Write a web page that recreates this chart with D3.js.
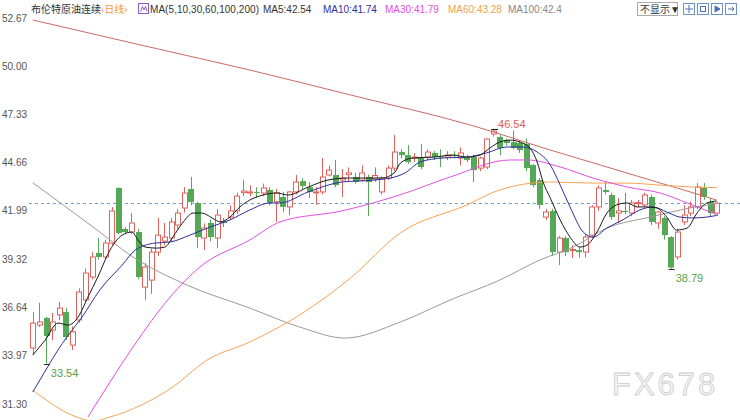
<!DOCTYPE html>
<html><head><meta charset="utf-8">
<script src="https://cdn.jsdelivr.net/npm/d3@7"></script>
<style>
body{margin:0;background:#fff;}
svg{display:block;}
text{font-family:"Liberation Sans",Arial,"Noto Sans CJK SC",sans-serif;}
</style>
</head><body>
<svg id="c" width="740" height="420"></svg>
<script>
// ---------- data ----------
const opens  = [34.40,35.67,36.06,35.39,36.23,36.39,34.56,35.95,37.06,38.33,39.66,39.44,40.21,43.26,40.99,40.82,40.82,37.77,38.16,39.71,40.32,40.49,41.21,42.15,43.20,42.43,40.49,41.32,40.49,41.40,41.65,41.99,43.00,42.98,43.04,42.98,43.15,42.50,42.76,42.21,43.04,43.64,43.31,43.00,43.04,43.98,43.98,43.70,44.00,43.87,43.70,43.87,43.75,43.04,43.81,44.36,45.25,45.08,44.90,44.97,44.97,45.20,45.00,44.97,45.10,44.92,44.97,44.97,44.36,44.42,46.25,46.08,45.91,45.80,45.75,45.70,44.53,43.70,41.65,41.99,39.71,40.49,39.80,39.82,39.71,40.65,42.21,43.15,42.87,41.87,41.99,41.87,42.40,42.32,42.76,41.32,41.60,40.54,39.44,41.38,41.87,42.21,43.26,42.48,41.87];
const highs  = [36.39,36.90,36.12,36.34,36.95,36.61,35.60,37.70,38.80,39.70,40.49,40.40,42.20,43.30,41.10,41.87,41.00,39.10,39.90,41.60,41.32,41.60,42.10,43.31,43.87,42.50,41.30,41.50,42.10,41.60,42.30,43.00,43.70,43.40,43.30,43.50,43.30,43.20,43.04,43.10,43.98,43.80,43.59,43.30,44.92,44.50,44.81,44.30,44.40,44.10,44.50,44.00,44.40,43.90,44.50,46.19,45.40,45.64,45.20,45.70,45.40,45.30,45.40,45.30,45.30,45.50,45.10,45.10,45.00,46.00,46.54,46.20,46.00,46.45,45.90,46.00,44.60,43.80,42.10,42.10,40.60,40.60,40.10,40.00,40.70,42.30,43.40,43.59,43.00,42.70,42.98,42.60,42.60,43.00,42.90,42.00,41.70,40.60,41.00,42.30,42.50,43.53,43.53,42.70,42.50];
const lows   = [34.01,35.56,33.54,34.84,35.95,34.84,34.29,35.80,36.90,38.20,39.30,39.30,40.10,40.70,40.70,40.70,38.20,37.06,37.40,39.50,40.10,40.30,41.00,41.90,42.30,39.93,39.82,40.30,39.93,41.10,41.50,41.80,42.80,42.80,42.70,42.80,42.30,41.38,41.93,41.76,42.90,43.20,42.70,42.32,42.90,43.90,43.30,42.76,43.60,43.50,43.60,41.70,43.60,42.90,43.70,44.20,44.90,44.60,44.70,44.30,44.80,44.80,44.42,44.80,44.90,44.50,44.70,43.59,44.20,44.30,46.10,45.08,45.60,45.40,45.20,44.20,43.30,42.10,41.50,39.50,38.99,39.50,39.38,39.40,39.40,40.50,42.00,42.90,41.50,41.32,41.80,41.70,42.20,42.20,41.20,41.00,40.40,38.79,39.30,41.20,41.70,42.10,42.60,41.70,41.70];
const closes = [35.78,35.84,35.06,35.84,36.61,35.01,35.30,37.50,38.55,39.44,39.44,40.21,41.99,40.77,40.82,41.32,38.33,38.88,39.71,40.65,40.54,41.38,41.87,42.98,42.48,40.54,41.04,40.54,41.76,41.32,41.99,42.81,43.09,43.04,43.00,43.26,42.43,43.00,42.21,43.04,43.59,43.37,43.04,43.04,43.87,44.25,43.42,43.81,44.10,43.59,44.09,43.59,43.95,43.81,44.36,45.25,45.08,44.70,44.97,44.42,45.25,44.97,44.95,45.08,45.05,45.20,44.81,44.25,44.92,45.97,46.41,45.47,45.75,45.47,45.36,44.36,43.42,42.32,41.93,39.71,40.49,39.71,39.85,39.71,40.54,42.21,43.26,43.04,41.65,41.99,41.93,42.43,42.45,42.87,41.38,41.93,40.65,38.85,40.82,41.76,42.21,43.31,42.76,41.87,42.42];

const yTicks = [52.67,50.00,47.33,44.66,41.99,39.32,36.64,33.97,31.30];

// moving averages: [candle index, value]
const ma5 = [[0,34.01],[1.9,34.84],[3.85,35.78],[5.4,35.67],[6.9,36.11],[8.4,37.22],[9.9,38.33],[11.75,39.82],[13.6,40.65],[15.1,40.82],[16,40.38],[17.1,39.99],[18.9,39.93],[20.1,39.99],[21.3,40.54],[22.9,41.38],[24.4,41.87],[25.7,41.87],[27.3,41.60],[28.5,41.38],[30,41.65],[31.5,42.21],[33,42.59],[35,42.87],[37.1,42.98],[38.8,42.87],[41.9,43.31],[44.9,43.70],[47.9,43.81],[51,43.81],[53.1,43.81],[55.1,44.14],[55.9,44.64],[57.8,44.92],[60.9,44.97],[63.9,45.08],[66,44.97],[68,45.08],[69.5,45.47],[71,45.80],[72.6,45.91],[74.1,45.80],[75.6,45.47],[76.7,44.70],[77.6,43.59],[78.7,42.70],[80.2,41.49],[81.7,40.54],[83.2,39.99],[84.3,40.10],[85.8,40.82],[87.3,41.87],[88.8,42.32],[90.4,42.43],[91.9,42.21],[93.4,42.21],[94.9,42.15],[96.4,41.65],[97.9,40.93],[99.5,41.04],[101,41.87],[102.5,42.43],[104,42.54]];
const ma10 = [[0,31.96],[1.1,32.63],[3.85,34.29],[5.2,35.01],[7.5,36.11],[10.2,37.61],[13.6,38.99],[15.6,39.82],[18.6,40.21],[20.9,40.27],[23.9,40.65],[27,41.10],[30,41.49],[33,42.04],[36.1,42.43],[37.6,42.43],[41.9,43.04],[47,43.59],[52,43.70],[55.1,43.87],[56.6,44.09],[58.9,44.70],[62.4,44.92],[66,44.97],[69,45.20],[72.1,45.53],[74.5,45.53],[76.7,45.25],[78.7,44.53],[80.2,43.42],[81.7,42.21],[83.7,40.82],[85.2,40.54],[87.3,41.04],[89.7,41.49],[92.3,42.04],[94.3,42.21],[96.4,41.93],[98.4,41.65],[100.4,41.60],[102.5,41.65],[104,41.74]];
const ma30 = [[8.4,30.58],[11.75,32.51],[15.25,34.45],[20.9,37.22],[25.4,38.88],[33,40.38],[37.6,41.38],[47,41.99],[56.2,42.92],[63.5,43.87],[72.6,44.81],[75.2,44.81],[80.2,44.42],[85.2,43.81],[90.4,43.31],[95.4,42.98],[99.5,42.43],[104,41.79]];
const ma60 = [[0,32.07],[6.7,30.58],[9.2,30.36],[11.75,30.58],[21.3,32.24],[26.5,33.73],[33,34.73],[40.6,36.23],[48.3,38.27],[55.9,40.77],[66,42.32],[71,43.15],[78.7,43.59],[85.2,43.53],[90.4,43.53],[95.4,43.42],[100.4,43.31],[104,43.28]];
const ma100 = [[0,43.55],[10.2,40.82],[14.8,39.55],[23.5,37.88],[33,36.61],[40.6,35.56],[47.5,34.95],[55.9,35.84],[63.5,37.06],[71,38.16],[77.1,39.27],[82.2,39.99],[87.3,41.04],[93.9,41.65],[99.9,42.15],[104,42.40]];
const ma200 = [[0,52.56],[17.8,51.06],[33,49.79],[48.3,48.41],[66.5,46.75],[78.7,45.36],[86.3,44.53],[93.9,43.70],[101.5,42.87],[104,42.59]];

const maNames  = ["MA5","MA10","MA30","MA60","MA100","MA200"];
const maLast   = ["42.54","41.74","41.79","43.28","42.4"];
const marks    = [[70,"high"],[2,"low"],[97,"low"]];

// ---------- drawing ----------
const svg = d3.select("#c");
const n = opens.length;
const x = d3.scaleBand().domain(d3.range(n)).range([29.4,720]).paddingInner(0.3).paddingOuter(0.15);
const bw = x.bandwidth();
const cx = i => x(i) + bw/2;
const xi = d3.scaleLinear().domain([0,n-1]).range([cx(0), cx(n-1)]);
const y = d3.scaleLinear().domain([31.30,52.67]).range([404,18]);

const upC = "#e0625c", dnC = "#55a855";
const maColors = ["#1a1a1a","#2e2e9e","#e04fe0","#f4a354","#9a9a9a","#c86a66"];

// y labels
svg.append("g").selectAll("text").data(yTicks).join("text")
  .attr("x",2).attr("y",d=>y(d)).attr("dy","0.35em")
  .attr("font-size",10).attr("fill","#555")
  .text(d=>d.toFixed(2));

// last close dashed line
svg.append("line")
  .attr("x1",29).attr("x2",740)
  .attr("y1",Math.round(y(closes[n-1]))+0.5).attr("y2",Math.round(y(closes[n-1]))+0.5)
  .attr("stroke","#6fa3d8").attr("stroke-dasharray","3,3").attr("stroke-width",1);

// candles
const g = svg.append("g");
d3.range(n).forEach(i=>{
  const up = closes[i] >= opens[i];
  const col = up ? upC : dnC;
  const xc = Math.round(cx(i)) + 0.5;
  const top = y(Math.max(opens[i],closes[i])), bot = y(Math.min(opens[i],closes[i]));
  g.append("line").attr("x1",xc).attr("x2",xc).attr("y1",y(highs[i])).attr("y2",y(lows[i]))
    .attr("stroke",col).attr("stroke-width",1);
  const h = Math.max(1, bot-top);
  if (up) {
    g.append("rect").attr("x",Math.round(x(i))+0.5).attr("y",top).attr("width",Math.round(bw)).attr("height",h)
      .attr("fill","#fff").attr("stroke",col).attr("stroke-width",1);
  } else {
    g.append("rect").attr("x",Math.round(x(i))).attr("y",top).attr("width",Math.round(bw)+1).attr("height",h)
      .attr("fill",col).attr("stroke","none");
  }
});

// MA lines
const line = d3.line().x(d=>xi(d[0])).y(d=>y(d[1])).curve(d3.curveMonotoneX);
[ma200,ma100,ma60,ma30,ma10,ma5].forEach((arr,k)=>{
  const ci = 5-k;
  svg.append("path").attr("d",line(arr)).attr("fill","none")
    .attr("stroke",maColors[ci]).attr("stroke-width",1);
});

// high / low marks
marks.forEach(([i,type])=>{
  const xc = cx(i);
  if (type==="high") {
    const yy = Math.round(y(highs[i]))+0.5;
    svg.append("line").attr("x1",xc-2).attr("x2",xc+5).attr("y1",yy).attr("y2",yy).attr("stroke","#222");
    svg.append("text").attr("x",xc+5).attr("y",yy-2).attr("font-size",11).attr("fill","#e05a50").text(highs[i].toFixed(2));
  } else {
    const yy = Math.round(y(lows[i]))+0.5;
    svg.append("line").attr("x1",xc-2).attr("x2",xc+4).attr("y1",yy).attr("y2",yy).attr("stroke","#222");
    svg.append("text").attr("x",xc+5).attr("y",yy+12).attr("font-size",11).attr("fill","#5a9e4a").text(lows[i].toFixed(2));
  }
});

// watermark
svg.append("text").attr("x",612).attr("y",395).attr("font-size",31).attr("letter-spacing",3)
  .attr("fill","#f6f6f6").attr("stroke","#cccccc").attr("stroke-width",0.8)
  .attr("font-family","Liberation Sans, Arial, sans-serif").text("FX678");

// header
const hd = svg.append("g");
hd.append("text").attr("x",31).attr("y",13).attr("font-size",10).attr("fill","#333")
  .attr("font-family","Noto Sans CJK SC").text("布伦特原油连续");
hd.append("text").attr("x",101).attr("y",13).attr("font-size",10).attr("fill","#f39a3d")
  .attr("font-family","Noto Sans CJK SC").text("‹日线›");
hd.append("rect").attr("x",138.5).attr("y",3.5).attr("width",10).attr("height",10)
  .attr("fill","#fff").attr("stroke","#8b5bc9");
hd.append("path").attr("d","M140.5,11.5 L142.5,6.5 L144,10 L145.5,6.5 L147,11.5").attr("fill","none").attr("stroke","#8b5bc9");
hd.append("text").attr("x",150).attr("y",13).attr("font-size",10).attr("fill","#333")
  .attr("textLength",109).attr("lengthAdjust","spacing")
  .text("MA(5,10,30,60,100,200)");
const hx = [263,323,385,448,508];
const hcol = ["#333","#2e2e9e","#e04fe0","#f0a050","#888"];
maLast.forEach((v,k)=>{
  hd.append("text").attr("x",hx[k]).attr("y",13).attr("font-size",10).attr("fill",hcol[k])
    .text(maNames[k]+":"+v);
});
hd.append("rect").attr("x",637.5).attr("y",2.5).attr("width",40).attr("height",13)
  .attr("fill","#fff").attr("stroke","#aaa");
hd.append("text").attr("x",640).attr("y",13).attr("font-size",10).attr("fill","#333")
  .attr("font-family","Noto Sans CJK SC").text("不显示▼");
[683,697,711,725].forEach((px,k)=>{
  hd.append("rect").attr("x",px+0.5).attr("y",3.5).attr("width",11).attr("height",11)
    .attr("fill","#fff").attr("stroke","#6b8fc7");
  const inner = hd.append("g").attr("stroke","#4a72b8").attr("fill","none");
  if (k===0){ inner.append("path").attr("d",`M${px+6},5 V13 M${px+2},9 H${px+10}`); }
  if (k===1){ inner.append("rect").attr("x",px+3.5).attr("y",6.5).attr("width",5).attr("height",5); }
  if (k===2){ inner.append("path").attr("d",`M${px+4},6 L${px+9},9 L${px+4},12 Z`).attr("fill","#4a72b8"); }
  if (k===3){ inner.append("path").attr("d",`M${px+3},9 H${px+9} M${px+7},7 L${px+9},9 L${px+7},11`); }
});
</script>
</body></html>
